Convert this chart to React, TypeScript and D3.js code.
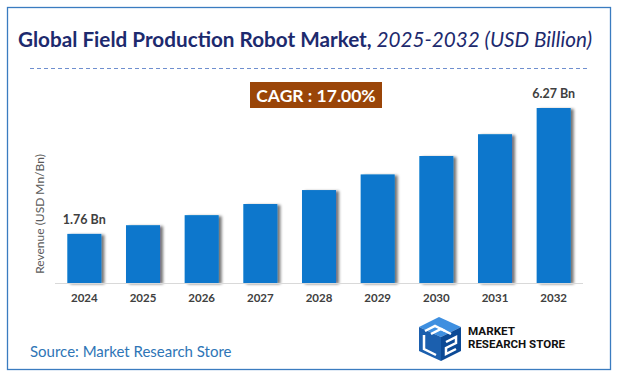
import React from "react";
import * as d3 from "d3";

const years = ["2024", "2025", "2026", "2027", "2028", "2029", "2030", "2031", "2032"];
const revenue = [1.76, 2.07, 2.43, 2.83, 3.33, 3.89, 4.55, 5.33, 6.27];
const labelledYears = ["2024", "2032"];
const titleMain = "Global Field Production Robot Market,";
const titleSub = " 2025-2032 (USD Billion)";
const cagrText = "CAGR : 17.00%";
const yAxisTitle = "Revenue (USD Mn/Bn)";
const sourceText = "Source: Market Research Store";

const W = 617;
const H = 379;
const FONT = "Lato, 'Open Sans', sans-serif";

export default function App() {
  const x = d3.scaleBand<string>().domain(years).range([55, 583]).paddingInner(0.42).paddingOuter(0.21);
  const y = d3.scaleLinear().domain([0, 6.27]).range([283, 108]);

  return (
    <svg
      width={W}
      height={H}
      style={{ position: "absolute", left: 0, top: 0, background: "#fff" }}
      fontFamily={FONT}
    >
      <defs>
        <filter id="shadow" x="-20%" y="-10%" width="160%" height="130%">
          <feGaussianBlur in="SourceAlpha" stdDeviation="1.6" />
          <feOffset dx="3" dy="1" result="b" />
          <feComponentTransfer>
            <feFuncA type="linear" slope="0.55" />
          </feComponentTransfer>
          <feMerge>
            <feMergeNode />
            <feMergeNode in="SourceGraphic" />
          </feMerge>
        </filter>
      </defs>
      <rect x={0} y={0} width={W} height={H} fill="#fff" />
      <rect x={7.5} y={7.5} width={603} height={362} fill="none" stroke="#3A7CC0" strokeWidth={1.3} />

      <text x={18} y={47} fontSize={20.7} fill="#1D2A6E">
        <tspan fontWeight={700}>{titleMain}</tspan>
        <tspan fontStyle="italic" fontWeight={400}>{titleSub}</tspan>
      </text>
      <line x1={30} x2={590} y1={68.5} y2={68.5} stroke="#6F8FCF" strokeWidth={1} strokeDasharray="4,3" />

      <rect x={250} y={82} width={132} height={26} fill="#9A4508" />
      <text x={316} y={101.5} textAnchor="middle" fontSize={17.5} fontWeight={700} fill="#fff">
        {cagrText}
      </text>

      <text
        transform={`translate(44,214) rotate(-90)`}
        textAnchor="middle"
        fontSize={12}
        fill="#595959"
      >
        {yAxisTitle}
      </text>

      <g filter="url(#shadow)">
        {years.map((yr, i) => (
          <rect
            key={yr}
            x={x(yr)}
            y={y(revenue[i])}
            width={x.bandwidth()}
            height={y(0) - y(revenue[i])}
            fill="#0877CC"
          />
        ))}
      </g>
      <line x1={55} x2={583} y1={283.5} y2={283.5} stroke="#D9D9D9" strokeWidth={1.2} />

      {years.map((yr) => (
        <text
          key={yr}
          x={(x(yr) as number) + x.bandwidth() / 2}
          y={302}
          textAnchor="middle"
          fontSize={11.5}
          fontWeight={700}
          fill="#404040"
        >
          {yr}
        </text>
      ))}

      {years.map((yr, i) =>
        labelledYears.includes(yr) ? (
          <text
            key={"l" + yr}
            x={(x(yr) as number) + x.bandwidth() / 2}
            y={y(revenue[i]) - 10}
            textAnchor="middle"
            fontSize={12.5}
            fontWeight={700}
            fill="#404040"
          >
            {revenue[i].toFixed(2) + " Bn"}
          </text>
        ) : null
      )}

      <text x={30} y={357} fontSize={15} fill="#2E75B6">
        {sourceText}
      </text>

      <g transform="translate(415,317)">
        <polygon points="4,10 24,0 46,10 26,20" fill="#3E8FE0" />
        <polygon points="4,10 26,20 26,44 4,34" fill="#1B5FAE" />
        <polygon points="26,20 46,10 46,34 26,44" fill="#0C4A96" />
        <polyline points="10,14 20,9 30,14" fill="none" stroke="#fff" strokeWidth={2.5} />
        <polyline points="16,17 26,12 36,17" fill="none" stroke="#fff" strokeWidth={2.5} />
        <polyline points="9,18 9,32 21,38" fill="none" stroke="#fff" strokeWidth={2.5} />
        <polyline points="31,25 41,20 41,26 31,31 31,37 41,32" fill="none" stroke="#fff" strokeWidth={2.5} />
      </g>
      <g fontFamily="Roboto, 'Liberation Sans', sans-serif" fontWeight={700} fontSize={11} fill="#111">
        <text x={468} y={335} textLength={47} lengthAdjust="spacingAndGlyphs">MARKET</text>
        <text x={468} y={348} textLength={97} lengthAdjust="spacingAndGlyphs">RESEARCH STORE</text>
      </g>
    </svg>
  );
}
